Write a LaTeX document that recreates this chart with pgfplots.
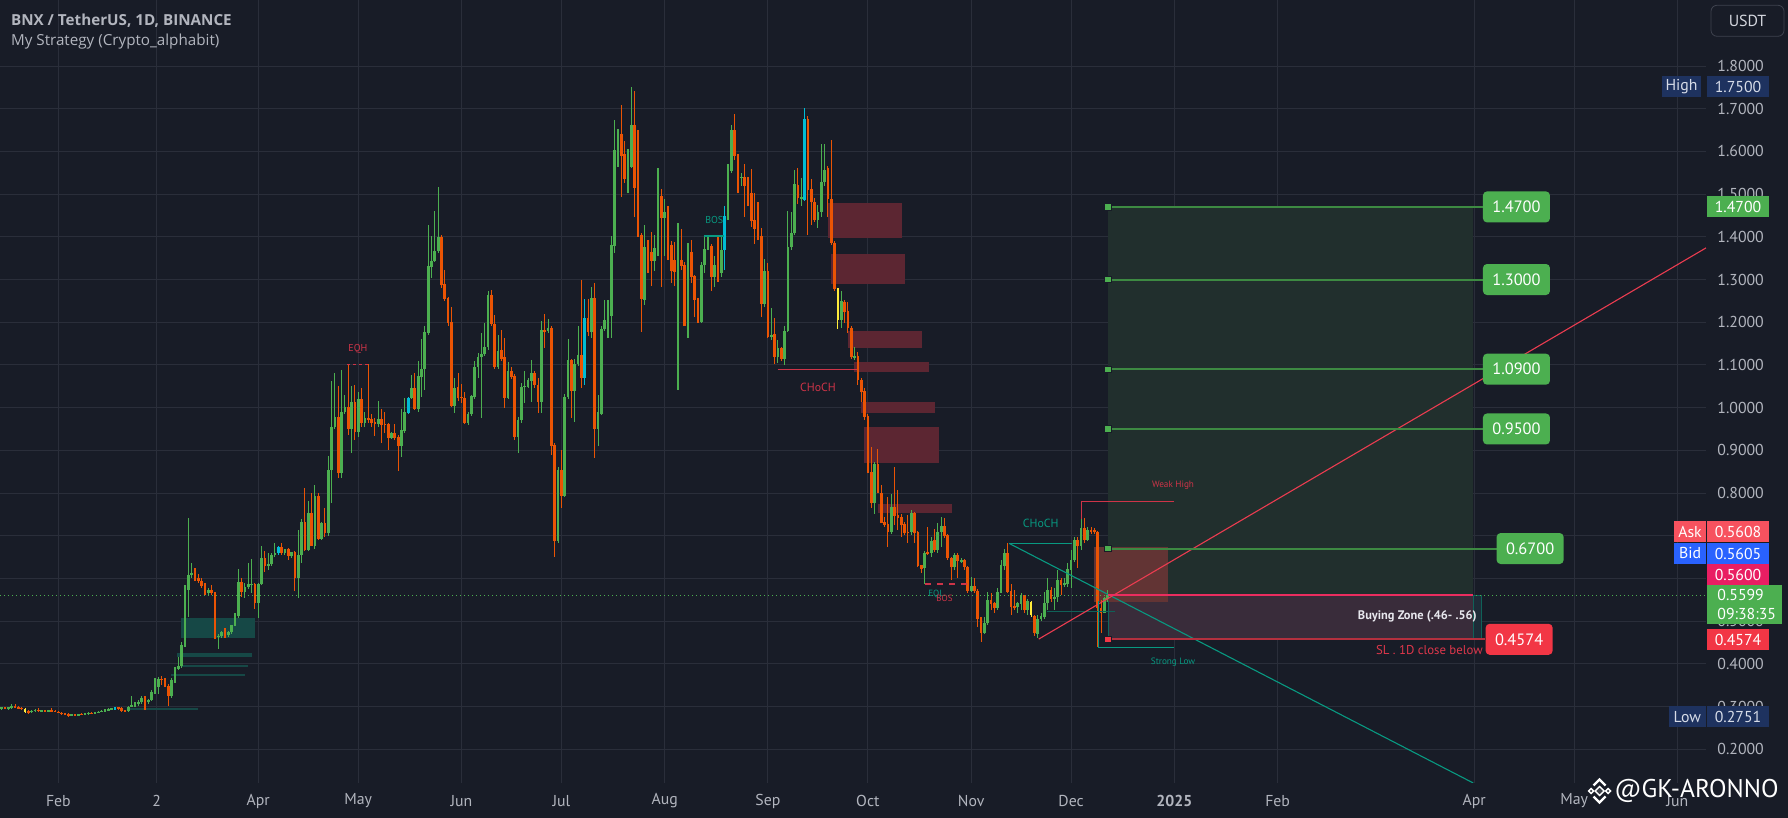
\documentclass[border=0pt]{standalone}
\usepackage{pgfplots}
\pgfplotsset{compat=1.18}
\usepackage{pgfplotstable}
\usepackage{fontspec}
\setmainfont{PT Sans}
\newfontfamily\titlefont{Open Sans}
\definecolor{bg}{RGB}{24,28,39}
\definecolor{gridc}{RGB}{42,46,58}
\definecolor{txt}{RGB}{178,181,190}
\definecolor{upc}{RGB}{76,175,80}
\definecolor{dnc}{RGB}{234,84,4}
\definecolor{cyc}{RGB}{0,188,212}
\definecolor{yec}{RGB}{255,235,59}
\definecolor{obred}{RGB}{92,38,50}
\definecolor{obbrown}{RGB}{98,52,52}
\definecolor{posgreen}{RGB}{33,47,45}
\definecolor{zonepur}{RGB}{57,44,58}
\definecolor{tealc}{RGB}{8,153,129}
\definecolor{tealdark}{RGB}{22,72,70}
\definecolor{tgline}{RGB}{61,138,66}
\definecolor{tvgreen}{RGB}{76,175,80}
\definecolor{tvred}{RGB}{242,54,69}
\definecolor{smcred}{RGB}{206,52,72}
\definecolor{trend}{RGB}{235,60,80}
\definecolor{navy}{RGB}{30,50,95}
\definecolor{askc}{RGB}{247,82,95}
\definecolor{bidc}{RGB}{41,98,255}
\definecolor{lastc}{RGB}{233,30,99}
\definecolor{slline}{RGB}{180,48,62}
\definecolor{pinkl}{RGB}{235,45,95}
\definecolor{usdtb}{RGB}{62,66,78}

\pgfplotstableread{
d o h l c k
14 0.296 0.300 0.293 0.297 0
15 0.297 0.299 0.294 0.296 0
16 0.296 0.300 0.293 0.298 0
17 0.296 0.306 0.294 0.302 0
18 0.302 0.307 0.296 0.298 0
19 0.298 0.301 0.295 0.297 0
20 0.297 0.298 0.293 0.295 0
21 0.295 0.296 0.284 0.287 2
22 0.289 0.292 0.282 0.287 0
23 0.287 0.292 0.285 0.290 0
24 0.290 0.294 0.288 0.292 0
25 0.292 0.296 0.288 0.290 0
26 0.290 0.293 0.288 0.291 0
27 0.291 0.292 0.288 0.290 0
28 0.290 0.293 0.288 0.291 0
29 0.291 0.296 0.289 0.290 0
30 0.290 0.291 0.286 0.288 0
31 0.288 0.289 0.284 0.285 0
32 0.285 0.287 0.281 0.283 0
33 0.283 0.285 0.280 0.282 0
34 0.282 0.284 0.276 0.280 0
35 0.280 0.282 0.278 0.281 0
36 0.281 0.283 0.279 0.280 0
37 0.280 0.283 0.279 0.282 0
38 0.282 0.284 0.280 0.281 0
39 0.281 0.284 0.280 0.283 0
40 0.283 0.287 0.281 0.285 0
41 0.285 0.287 0.282 0.283 0
42 0.283 0.286 0.282 0.285 0
43 0.285 0.289 0.284 0.288 0
44 0.288 0.292 0.286 0.290 0
45 0.290 0.294 0.288 0.292 0
46 0.292 0.296 0.290 0.294 0
47 0.294 0.297 0.291 0.296 0
48 0.295 0.300 0.293 0.297 1
49 0.297 0.299 0.293 0.296 0
50 0.296 0.298 0.288 0.290 0
51 0.290 0.293 0.286 0.289 0
52 0.289 0.302 0.286 0.300 0
53 0.300 0.325 0.298 0.303 0
54 0.303 0.310 0.300 0.306 0
55 0.306 0.316 0.302 0.310 0
56 0.310 0.324 0.305 0.320 0
57 0.322 0.324 0.293 0.311 0
58 0.311 0.318 0.305 0.315 0
59 0.315 0.338 0.312 0.335 0
60 0.335 0.366 0.330 0.345 0
61 0.345 0.368 0.330 0.365 0
62 0.365 0.372 0.350 0.363 0
63 0.363 0.366 0.345 0.349 0
64 0.349 0.352 0.302 0.325 0
65 0.325 0.366 0.320 0.362 0
66 0.362 0.392 0.355 0.389 0
67 0.389 0.417 0.385 0.395 0
68 0.395 0.450 0.390 0.444 0
69 0.444 0.585 0.440 0.574 0
70 0.574 0.741 0.509 0.608 0
71 0.608 0.635 0.600 0.612 0
72 0.612 0.625 0.595 0.600 0
73 0.600 0.610 0.590 0.595 0
74 0.595 0.600 0.578 0.582 0
75 0.582 0.590 0.560 0.567 0
76 0.567 0.578 0.562 0.574 0
77 0.574 0.585 0.560 0.565 0
78 0.565 0.568 0.458 0.464 0
79 0.464 0.470 0.435 0.466 0
80 0.466 0.478 0.460 0.475 0
81 0.475 0.483 0.461 0.467 0
82 0.467 0.478 0.462 0.475 0
83 0.475 0.492 0.470 0.491 0
84 0.491 0.518 0.488 0.512 0
85 0.512 0.622 0.508 0.592 0
86 0.592 0.600 0.557 0.569 0
87 0.569 0.590 0.553 0.580 0
88 0.580 0.635 0.575 0.586 0
89 0.586 0.645 0.565 0.587 0
90 0.587 0.590 0.529 0.543 0
91 0.543 0.590 0.507 0.588 0
92 0.588 0.676 0.585 0.647 0
93 0.647 0.664 0.616 0.628 0
94 0.628 0.659 0.620 0.633 0
95 0.633 0.660 0.628 0.655 0
96 0.655 0.684 0.650 0.660 0
97 0.659 0.675 0.655 0.673 1
98 0.673 0.682 0.655 0.659 0
99 0.659 0.670 0.655 0.668 0
100 0.668 0.672 0.642 0.653 0
101 0.653 0.662 0.648 0.661 0
102 0.661 0.664 0.571 0.600 0
103 0.600 0.713 0.553 0.655 0
104 0.655 0.740 0.635 0.733 0
105 0.733 0.811 0.665 0.667 0
106 0.667 0.781 0.664 0.754 0
107 0.754 0.799 0.675 0.676 0
108 0.676 0.819 0.670 0.793 0
109 0.793 0.799 0.691 0.692 0
110 0.692 0.733 0.690 0.729 0
111 0.729 0.764 0.698 0.707 0
112 0.707 0.887 0.700 0.854 0
113 0.854 1.062 0.777 0.955 0
114 0.955 1.080 0.950 0.979 0
115 0.979 1.051 0.834 0.846 0
116 0.846 1.088 0.834 0.989 0
117 0.989 1.030 0.985 1.001 0
118 1.001 1.101 0.936 0.949 0
119 0.949 1.051 0.894 1.012 0
120 1.012 1.053 0.923 0.944 0
121 0.944 1.037 0.932 1.020 0
122 1.020 1.045 0.955 0.963 0
123 0.963 0.990 0.955 0.976 0
124 0.976 1.101 0.963 0.973 0
125 0.973 0.984 0.955 0.963 0
126 0.966 0.975 0.933 0.963 0
127 0.962 1.015 0.955 0.973 0
128 0.973 0.997 0.918 0.959 0
129 0.962 0.990 0.940 0.959 0
130 0.962 0.963 0.901 0.928 0
131 0.928 0.944 0.926 0.940 0
132 0.940 0.961 0.924 0.930 0
133 0.932 0.935 0.852 0.909 0
134 0.910 0.996 0.884 0.948 0
135 0.946 1.022 0.940 0.989 0
136 0.988 1.024 0.985 1.022 1
137 1.022 1.076 1.020 1.046 0
138 1.046 1.082 0.994 0.996 0
139 0.997 1.109 0.990 1.074 0
140 1.072 1.160 1.026 1.090 0
141 1.090 1.190 1.041 1.176 0
142 1.174 1.428 1.170 1.332 0
143 1.330 1.402 1.303 1.344 0
144 1.344 1.460 1.340 1.367 0
145 1.367 1.517 1.362 1.400 0
146 1.400 1.405 1.281 1.287 0
147 1.289 1.322 1.250 1.254 0
148 1.256 1.260 1.191 1.199 0
149 1.200 1.236 1.001 1.004 0
150 1.004 1.069 0.988 1.045 0
151 1.049 1.080 1.016 1.023 0
152 1.026 1.055 1.010 1.023 0
153 1.023 1.037 0.962 0.965 0
154 0.965 0.990 0.960 0.985 0
155 0.985 1.030 0.980 1.027 0
156 1.026 1.110 1.020 1.094 0
157 1.094 1.129 1.069 1.118 0
158 1.118 1.174 0.975 1.126 0
159 1.126 1.197 1.120 1.141 0
160 1.141 1.273 1.135 1.264 0
161 1.264 1.275 1.190 1.195 0
162 1.195 1.217 1.090 1.094 0
163 1.094 1.170 1.090 1.133 0
164 1.135 1.182 1.110 1.115 0
165 1.119 1.162 1.000 1.023 0
166 1.023 1.106 1.020 1.086 0
167 1.086 1.094 1.068 1.072 0
168 1.074 1.078 0.925 0.932 0
169 0.932 0.979 0.893 0.971 0
170 0.971 1.057 0.965 1.049 0
171 1.049 1.086 1.010 1.051 0
172 1.049 1.070 1.045 1.065 0
173 1.063 1.112 1.014 1.082 0
174 1.082 1.085 1.045 1.053 0
175 1.053 1.069 0.987 1.012 0
176 1.012 1.203 0.987 1.182 0
177 1.182 1.219 1.140 1.179 0
178 1.179 1.207 1.175 1.186 0
179 1.186 1.190 0.888 0.910 0
180 0.912 0.916 0.651 0.688 0
181 0.688 0.862 0.682 0.854 0
182 0.854 0.901 0.766 0.794 0
183 0.794 1.032 0.791 1.024 0
184 1.024 1.161 1.020 1.112 0
185 1.112 1.115 0.975 1.040 0
186 1.040 1.113 0.966 1.101 0
187 1.101 1.191 1.098 1.123 0
188 1.123 1.299 1.045 1.069 0
189 1.069 1.254 1.053 1.209 1
190 1.209 1.254 1.168 1.176 0
191 1.176 1.283 1.164 1.256 0
192 1.256 1.291 0.881 0.951 0
193 0.951 1.030 0.909 0.990 0
194 0.984 1.190 0.983 1.183 0
195 1.183 1.252 1.180 1.205 0
196 1.205 1.252 1.162 1.217 0
197 1.215 1.402 1.162 1.381 0
198 1.379 1.674 1.363 1.603 0
199 1.603 1.652 1.563 1.641 0
200 1.641 1.709 1.494 1.590 0
201 1.594 1.625 1.527 1.535 0
202 1.535 1.605 1.503 1.566 0
203 1.564 1.750 1.560 1.662 0
204 1.662 1.742 1.447 1.514 0
205 1.516 1.650 1.400 1.402 0
206 1.404 1.410 1.176 1.254 0
207 1.252 1.428 1.240 1.375 0
208 1.375 1.393 1.315 1.365 0
209 1.365 1.411 1.285 1.343 0
210 1.343 1.404 1.320 1.373 0
211 1.372 1.560 1.354 1.496 0
212 1.496 1.512 1.283 1.445 0
213 1.445 1.488 1.355 1.459 0
214 1.461 1.471 1.346 1.379 0
215 1.381 1.390 1.293 1.321 0
216 1.346 1.389 1.285 1.318 0
217 1.326 1.432 1.041 1.346 0
218 1.346 1.418 1.322 1.332 0
219 1.334 1.340 1.190 1.192 0
220 1.192 1.386 1.162 1.365 0
221 1.365 1.393 1.291 1.307 0
222 1.308 1.310 1.213 1.252 0
223 1.252 1.256 1.198 1.201 0
224 1.201 1.340 1.198 1.334 0
225 1.334 1.402 1.315 1.371 0
226 1.371 1.402 1.368 1.379 0
227 1.379 1.383 1.272 1.307 0
228 1.307 1.354 1.283 1.334 0
229 1.334 1.400 1.293 1.316 0
230 1.316 1.400 1.307 1.369 0
231 1.368 1.471 1.322 1.449 1
232 1.447 1.571 1.440 1.557 0
233 1.555 1.662 1.550 1.650 0
234 1.650 1.688 1.580 1.589 0
235 1.592 1.595 1.502 1.539 0
236 1.537 1.550 1.520 1.541 0
237 1.541 1.571 1.447 1.519 0
238 1.519 1.541 1.471 1.502 0
239 1.502 1.558 1.422 1.438 0
240 1.439 1.502 1.382 1.418 0
241 1.418 1.482 1.393 1.400 0
242 1.402 1.420 1.213 1.242 0
243 1.242 1.347 1.236 1.320 0
244 1.320 1.338 1.162 1.166 0
245 1.166 1.233 1.158 1.170 0
246 1.173 1.209 1.102 1.119 0
247 1.119 1.158 1.104 1.139 0
248 1.139 1.143 1.108 1.115 0
249 1.115 1.190 1.100 1.180 0
250 1.180 1.461 1.178 1.375 0
251 1.375 1.457 1.370 1.410 0
252 1.410 1.557 1.405 1.524 0
253 1.521 1.560 1.476 1.490 0
254 1.490 1.537 1.471 1.492 0
255 1.486 1.701 1.485 1.675 1
256 1.675 1.683 1.404 1.510 0
257 1.511 1.535 1.428 1.482 0
258 1.482 1.490 1.435 1.439 0
259 1.439 1.474 1.420 1.459 0
260 1.457 1.617 1.447 1.528 0
261 1.528 1.617 1.520 1.557 0
262 1.560 1.566 1.447 1.488 0
263 1.488 1.627 1.380 1.385 0
264 1.385 1.390 1.272 1.277 0
265 1.279 1.280 1.183 1.205 2
266 1.205 1.272 1.186 1.250 0
267 1.248 1.252 1.197 1.225 0
268 1.227 1.248 1.174 1.186 0
269 1.186 1.190 1.115 1.119 0
270 1.117 1.143 1.112 1.121 0
271 1.121 1.130 1.053 1.065 0
272 1.065 1.070 1.014 1.037 0
273 1.039 1.045 0.972 0.979 0
274 0.980 0.985 0.846 0.848 0
275 0.850 0.908 0.764 0.776 0
276 0.776 0.873 0.752 0.868 0
277 0.868 0.904 0.799 0.801 0
278 0.801 0.819 0.729 0.730 0
279 0.733 0.745 0.721 0.725 0
280 0.727 0.791 0.674 0.709 0
281 0.709 0.798 0.705 0.768 0
282 0.768 0.862 0.725 0.745 0
283 0.748 0.807 0.713 0.741 0
284 0.743 0.752 0.698 0.725 0
285 0.727 0.733 0.702 0.707 0
286 0.709 0.748 0.682 0.707 0
287 0.709 0.760 0.702 0.754 0
288 0.754 0.756 0.682 0.707 0
289 0.708 0.710 0.627 0.629 0
290 0.631 0.632 0.613 0.621 0
291 0.624 0.665 0.588 0.660 0
292 0.660 0.721 0.655 0.659 0
293 0.659 0.698 0.651 0.688 0
294 0.690 0.715 0.663 0.666 0
295 0.666 0.730 0.660 0.709 0
296 0.709 0.745 0.674 0.723 0
297 0.723 0.741 0.695 0.699 0
298 0.702 0.705 0.643 0.647 0
299 0.647 0.650 0.596 0.626 0
300 0.626 0.659 0.620 0.655 0
301 0.655 0.660 0.600 0.640 0
302 0.640 0.647 0.635 0.643 0
303 0.643 0.645 0.620 0.626 0
304 0.626 0.630 0.565 0.571 0
305 0.571 0.604 0.568 0.582 0
306 0.582 0.600 0.565 0.571 0
307 0.571 0.575 0.487 0.506 0
308 0.509 0.510 0.452 0.473 0
309 0.473 0.510 0.470 0.496 0
310 0.496 0.569 0.492 0.549 0
311 0.549 0.565 0.526 0.540 0
312 0.543 0.545 0.518 0.530 0
313 0.530 0.577 0.526 0.569 0
314 0.567 0.643 0.565 0.631 0
315 0.629 0.670 0.620 0.659 0
316 0.659 0.682 0.567 0.569 0
317 0.570 0.588 0.514 0.534 0
318 0.535 0.573 0.526 0.532 0
319 0.534 0.545 0.520 0.542 0
320 0.539 0.565 0.526 0.560 0
321 0.560 0.562 0.518 0.526 0
322 0.526 0.551 0.514 0.548 0
323 0.545 0.548 0.510 0.514 2
324 0.512 0.514 0.465 0.471 0
325 0.470 0.514 0.460 0.506 0
326 0.506 0.520 0.500 0.512 0
327 0.510 0.569 0.505 0.543 0
328 0.543 0.600 0.526 0.573 0
329 0.574 0.580 0.545 0.551 0
330 0.551 0.577 0.526 0.557 0
331 0.557 0.620 0.545 0.596 0
332 0.596 0.600 0.561 0.584 0
333 0.584 0.600 0.580 0.590 0
334 0.588 0.635 0.581 0.621 0
335 0.620 0.666 0.577 0.643 0
336 0.643 0.698 0.639 0.690 0
337 0.690 0.698 0.624 0.676 0
338 0.676 0.780 0.666 0.717 0
339 0.717 0.741 0.682 0.691 0
340 0.691 0.721 0.688 0.713 0
341 0.713 0.721 0.705 0.709 0
342 0.713 0.717 0.705 0.708 0
343 0.708 0.710 0.440 0.530 0
344 0.530 0.549 0.471 0.520 0
345 0.520 0.557 0.518 0.553 0
346 0.551 0.574 0.545 0.560 0
}\candles

\pgfplotsset{
  wick/.style={draw=none, mark=none, forget plot,
    error bars/y dir=both, error bars/y explicit, error bars/error mark=none,
    error bars/error bar style={line width=0.55pt, draw=#1, solid}},
  body/.style={draw=none, mark=none, forget plot,
    error bars/y dir=both, error bars/y explicit, error bars/error mark=none,
    error bars/error bar style={line width=1.35pt, draw=#1, solid}},
}
\tikzset{
  lbl/.style={rounded corners=2pt, text=white, minimum width=33.5pt, minimum height=15.5pt, inner sep=0pt, font=\fontsize{8.2}{9}\selectfont},
  vbox/.style={text=white, minimum width=31pt, minimum height=10.5pt, inner sep=0pt, font=\fontsize{7.9}{9}\selectfont},
  sq/.style={draw=bg, line width=0.4pt, inner sep=0pt, minimum size=3.2pt},
}

\begin{document}
\begin{tikzpicture}
\useasboundingbox (0,0) rectangle (894pt,409pt);
\fill[bg] (0,0) rectangle (894pt,409pt);
\begin{axis}[
  at={(0pt,17.5pt)}, anchor=south west,
  scale only axis, width=853pt, height=391.5pt,
  xmin=13.47, xmax=525.6, ymin=0.1209, ymax=1.9546,
  axis line style={draw=none},
  clip mode=individual,
  grid=major, major grid style={draw=gridc, line width=0.5pt},
  tick style={draw=none},
  xtick={31,60.5,91,121,152,182,213,244,274,305,335,366,397,456,486,517},
  xticklabels={Feb,2,Apr,May,Jun,Jul,Aug,Sep,Oct,Nov,Dec,\textbf{2025},Feb,Apr,May,Jun},
  xticklabel style={font=\fontsize{7.9}{9}\selectfont, text=txt, anchor=center, yshift=-9pt, inner sep=0pt},
  ytick={0.2,0.3,0.4,0.5,0.6,0.7,0.8,0.9,1.0,1.1,1.2,1.3,1.4,1.5,1.6,1.7,1.8},
  yticklabel pos=right,
  yticklabels={0.2000,0.3000,0.4000,0.5000,{},{},0.8000,0.9000,1.0000,1.1000,1.2000,1.3000,1.4000,1.5000,1.6000,1.7000,1.8000},
  yticklabel style={font=\fontsize{7.9}{9}\selectfont, text=txt, anchor=west, inner sep=0pt, xshift=5.5pt},
]
% demand zone (teal)
\fill[tealdark] (67.8,0.461) rectangle (90.0,0.507);
\draw[tealdark, line width=2pt] (66.6,0.42) -- (89.1,0.42);
\draw[tealdark, line width=0.6pt] (68.0,0.395) -- (87.9,0.395);
\draw[tealdark, line width=1pt] (64.8,0.374) -- (87.0,0.374);
\draw[tealdark, line width=1pt] (51.5,0.294) -- (73.0,0.294);
% order blocks
\fill[obred] (262.1,1.398) rectangle (284.2,1.479);
\fill[obred] (262.9,1.290) rectangle (285.2,1.360);
\fill[obred] (268.0,1.140) rectangle (290.2,1.179);
\fill[obred] (269.8,1.083) rectangle (292.4,1.107);
\fill[obred] (272.0,0.988) rectangle (294.2,1.013);
\fill[obred] (272.9,0.871) rectangle (295.4,0.955);
\fill[obred] (277.1,0.754) rectangle (299.3,0.774);
% position
\fill[posgreen] (346.1,0.56) rectangle (455.7,1.47);
\fill[zonepur] (346.1,0.4574) rectangle (455.7,0.56);
\draw[tealc!55!bg, fill={rgb,255:red,30;green,44;blue,56}] (455.7,0.4574) rectangle (458.1,0.56);
\fill[obbrown] (341.9,0.545) rectangle (364.1,0.674);
\draw[tealc!60!bg, line width=0.5pt] (346.1,0.546) -- (346.1,0.4574);

% candles
\addplot[wick=upc, restrict expr to domain={(\thisrow{c}>=\thisrow{o})*(\thisrow{k}==0)}{0.5:1.5}]
  table[x=d, y expr={(\thisrow{h}+\thisrow{l})/2}, y error expr={(\thisrow{h}-\thisrow{l})/2}]{\candles};
\addplot[body=upc, restrict expr to domain={(\thisrow{c}>=\thisrow{o})*(\thisrow{k}==0)}{0.5:1.5}]
  table[x=d, y expr={(\thisrow{o}+\thisrow{c})/2}, y error expr={max(abs(\thisrow{c}-\thisrow{o})/2,0.0012)}]{\candles};
\addplot[wick=dnc, restrict expr to domain={(\thisrow{c}<\thisrow{o})*(\thisrow{k}==0)}{0.5:1.5}]
  table[x=d, y expr={(\thisrow{h}+\thisrow{l})/2}, y error expr={(\thisrow{h}-\thisrow{l})/2}]{\candles};
\addplot[body=dnc, restrict expr to domain={(\thisrow{c}<\thisrow{o})*(\thisrow{k}==0)}{0.5:1.5}]
  table[x=d, y expr={(\thisrow{o}+\thisrow{c})/2}, y error expr={max(abs(\thisrow{c}-\thisrow{o})/2,0.0012)}]{\candles};
\addplot[wick=cyc, restrict expr to domain={\thisrow{k}}{0.5:1.5}]
  table[x=d, y expr={(\thisrow{h}+\thisrow{l})/2}, y error expr={(\thisrow{h}-\thisrow{l})/2}]{\candles};
\addplot[body=cyc, restrict expr to domain={\thisrow{k}}{0.5:1.5}]
  table[x=d, y expr={(\thisrow{o}+\thisrow{c})/2}, y error expr={max(abs(\thisrow{c}-\thisrow{o})/2,0.0012)}]{\candles};
\addplot[wick=yec, restrict expr to domain={\thisrow{k}}{1.5:2.5}]
  table[x=d, y expr={(\thisrow{h}+\thisrow{l})/2}, y error expr={(\thisrow{h}-\thisrow{l})/2}]{\candles};
\addplot[body=yec, restrict expr to domain={\thisrow{k}}{1.5:2.5}]
  table[x=d, y expr={(\thisrow{o}+\thisrow{c})/2}, y error expr={max(abs(\thisrow{c}-\thisrow{o})/2,0.0012)}]{\candles};

% current price dotted
\draw[upc, line width=0.5pt, dash pattern=on 0.6pt off 1.4pt] (13.47,0.5599) -- (525.6,0.5599);

% SMC annotations
\draw[smcred, line width=0.6pt] (247.1,1.090) -- (270.7,1.090);
\node[text=smcred, font=\fontsize{5.9}{7}\selectfont, inner sep=0pt] at (259.0,1.048) {CHoCH};
\draw[smcred, line width=0.6pt, dash pattern=on 1.5pt off 1.5pt] (117.7,1.101) -- (123.9,1.101);
\node[text=smcred, font=\fontsize{5}{6}\selectfont, inner sep=0pt] at (120.9,1.137) {EQH};
\draw[tealc, line width=0.6pt] (224.8,1.402) -- (230.9,1.402);
\node[text=tealc, font=\fontsize{5}{6}\selectfont, inner sep=0pt] at (227.9,1.439) {BOS};
\draw[smcred, line width=0.6pt, dash pattern=on 3pt off 3pt] (291.2,0.587) -- (304.1,0.587);
\node[text=tealc, font=\fontsize{4.5}{5}\selectfont, inner sep=0pt] at (294.5,0.563) {EQL};
\node[text=smcred, font=\fontsize{4.5}{5}\selectfont, inner sep=0pt] at (297.0,0.553) {BOS};

\draw[tealc, line width=0.55pt] (316.4,0.682) -- (335.3,0.682);
\node[text=tealc, font=\fontsize{5.9}{7}\selectfont, inner sep=0pt] at (325.9,0.729) {CHoCH};
\draw[tealc!55!bg, line width=0.55pt] (327.7,0.522) -- (348.2,0.522);
\addplot[tealc, line width=0.55pt, mark=none, forget plot] coordinates {(316.4,0.682) (455.7,0.121)};
\addplot[trend, line width=0.55pt, mark=none, forget plot] coordinates {(325.3,0.458) (525.6,1.374)};

\draw[smcred, line width=0.6pt] (338.1,0.740) -- (338.1,0.781) -- (365.9,0.781);
\node[text=smcred, font=\fontsize{4.6}{5}\selectfont, inner sep=0pt] at (365.6,0.819) {Weak High};
\draw[tealc, line width=0.6pt] (343.3,0.546) -- (343.3,0.439) -- (365.9,0.439);
\node[text=tealc, font=\fontsize{4.6}{5}\selectfont, inner sep=0pt] at (365.6,0.404) {Strong Low};

% position lines
\draw[pinkl, line width=1pt] (346.1,0.56) -- (455.7,0.56);
\draw[tgline, line width=1pt] (346.1,1.47) -- (458.7,1.47);
\draw[tgline, line width=1pt] (346.1,1.30) -- (458.7,1.30);
\draw[tgline, line width=1pt] (346.1,1.09) -- (458.7,1.09);
\draw[tgline, line width=1pt] (346.1,0.95) -- (458.7,0.95);
\draw[tgline, line width=1pt] (346.1,0.67) -- (462.9,0.67);
\draw[slline, line width=1pt] (346.1,0.4574) -- (459.3,0.4574);
\node[sq, fill=tvgreen] at (346.1,1.47) {};
\node[sq, fill=tvgreen] at (346.1,1.30) {};
\node[sq, fill=tvgreen] at (346.1,1.09) {};
\node[sq, fill=tvgreen] at (346.1,0.95) {};
\node[sq, fill=tvgreen] at (346.1,0.67) {};
\node[sq, fill=tvred] at (346.1,0.4574) {};

\node[lbl, fill=tvgreen] at (468.7,1.47) {1.4700};
\node[lbl, fill=tvgreen] at (468.7,1.30) {1.3000};
\node[lbl, fill=tvgreen] at (468.7,1.09) {1.0900};
\node[lbl, fill=tvgreen] at (468.7,0.95) {0.9500};
\node[lbl, fill=tvgreen] at (472.8,0.67) {0.6700};
\node[lbl, fill=tvred] at (469.5,0.4574) {0.4574};

\node[anchor=east, text={rgb,255:red,232;green,232;blue,238}, font=\bfseries\fontsize{6.2}{7}\selectfont, inner sep=0pt] at (456.9,0.510) {Buying Zone (.46- .56)};
\node[anchor=east, text={rgb,255:red,222;green,55;blue,75}, font=\fontsize{6.4}{7}\selectfont, inner sep=0pt] at (458.7,0.432) {SL . 1D close below};
\end{axis}

% overlay in pixel units (origin top-left)
\begin{scope}[shift={(0pt,409pt)}, x=0.5pt, y=-0.5pt]
\node[anchor=west, text=txt, font=\titlefont\bfseries\fontsize{7.6}{9}\selectfont, inner sep=0pt] at (10.7,20.7) {BNX / TetherUS, 1D, BINANCE};
\node[anchor=west, text=txt, font=\titlefont\fontsize{7.6}{9}\selectfont, inner sep=0pt] at (10.7,41.7) {My Strategy (Crypto\_alphabit)};

\node[draw=usdtb, fill=bg, rounded corners=3pt, minimum width=36.5pt, minimum height=15.5pt, inner sep=0pt, text={rgb,255:red,212;green,214;blue,222}, font=\fontsize{8}{9}\selectfont] at (1747.5,20.8) {USDT};

\node[vbox, fill=navy, minimum width=19.5pt, text={rgb,255:red,215;green,220;blue,232}] at (1681.5,87) {High};
\node[vbox, fill=navy, text={rgb,255:red,215;green,220;blue,232}] at (1738,87) {1.7500};
\node[vbox, fill=tvgreen] at (1738,207) {1.4700};
\node[vbox, fill=askc, minimum width=15.8pt] at (1690,531.5) {Ask};
\node[vbox, fill=askc] at (1738,531.5) {0.5608};
\node[vbox, fill=bidc, minimum width=15.8pt] at (1690,553.5) {Bid};
\node[vbox, fill=bidc] at (1738,553.5) {0.5605};
\node[vbox, fill=lastc] at (1738,575) {0.5600};
\node[fill=tvgreen, minimum width=37.5pt, minimum height=19.5pt, inner sep=0pt] at (1744.5,604.5) {};
\node[anchor=west, text=white, font=\fontsize{7.9}{9}\selectfont, inner sep=0pt] at (1717,595) {0.5599};
\node[anchor=west, text=white, font=\fontsize{7.9}{9}\selectfont, inner sep=0pt] at (1717,614) {09:38:35};
\node[vbox, fill=tvred] at (1738,639.5) {0.4574};
\node[vbox, fill=navy, minimum width=18.5pt, text={rgb,255:red,215;green,220;blue,232}] at (1687.3,716.7) {Low};
\node[vbox, fill=navy, text={rgb,255:red,215;green,220;blue,232}] at (1738,716.7) {0.2751};

% watermark
\begin{scope}[draw=white, line width=0.7pt, fill={rgb,255:red,60;green,64;blue,72}]
\filldraw (1599.5,786.5) -- (1604,791) -- (1599.5,795.5) -- (1595,791) -- cycle;
\filldraw (1591,788.5) -- (1593.5,791) -- (1591,793.5) -- (1588.5,791) -- cycle;
\filldraw (1608,788.5) -- (1610.5,791) -- (1608,793.5) -- (1605.5,791) -- cycle;
\draw[line width=1.2pt] (1593.5,785.5) -- (1599.5,779.5) -- (1605.5,785.5);
\draw[line width=1.2pt] (1593.5,796.5) -- (1599.5,802.5) -- (1605.5,796.5);
\end{scope}
\node[anchor=west, text=white, font=\fontsize{12.8}{14}\selectfont, inner sep=0pt] at (1614,791) {@GK-ARONNO};
\end{scope}
\end{tikzpicture}
\end{document}
